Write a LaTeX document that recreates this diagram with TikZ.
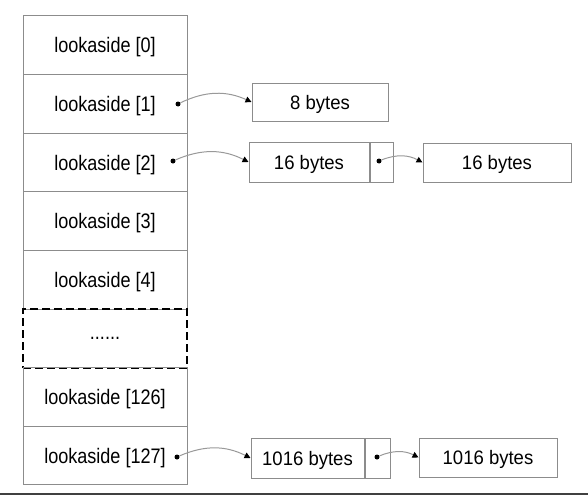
\documentclass[tikz,border=0pt]{standalone}
\usepackage{fontspec}
\setmainfont{Liberation Sans}
\newfontfamily\cellfont[FakeStretch=0.86]{Liberation Sans}
\newfontfamily\blkfont[FakeStretch=0.95]{Liberation Sans}
\usetikzlibrary{arrows.meta,positioning}

\definecolor{boxgray}{HTML}{8C8C8C}
\definecolor{linkgray}{HTML}{999999}
\definecolor{rulegray}{HTML}{404040}

\tikzset{
    cell/.style={draw=boxgray, line width=1pt, minimum width=164pt, minimum height=58.6pt,
        inner sep=0pt, text depth=0pt, font=\cellfont\fontsize{21}{25}\selectfont},
    gapcell/.style={cell, draw=black, line width=2pt, dash pattern=on 8pt off 4pt},
    blk/.style={draw=boxgray, line width=1pt, inner sep=0pt, text depth=0pt,
        font=\blkfont\fontsize{19.5}{23}\selectfont},
    dot/.style={circle, fill=black, inner sep=0pt, minimum size=5pt},
    link/.style={draw=linkgray, line width=1pt, -{Triangle[black,length=6pt,width=6pt]}, bend left=25}
}

\begin{document}
\begin{tikzpicture}[x=1pt, y=-1pt]
        \useasboundingbox (0,0) rectangle (588,495);

        % 数组单元
        \foreach \i in {0,...,4}
        {
            \node [cell] (la\i) at (105,{16+58.6*(\i+0.5)}) {lookaside [\i]};
        }
        \node [gapcell] (gap) at (105,338.3) {......};
        \node [cell] (la126) at (105,396.9) {lookaside [126]};
        \node [cell] (la127) at (105,455.5) {lookaside [127]};

        % 指针
        \node [dot] (p1) at (178,104) {};
        \node [dot] (p2) at (173,161) {};
        \node [dot] (p127) at (177,457) {};

        % 链表块
        \node [blk, minimum width=136pt, minimum height=38pt] (b8) at (320,102) {8 bytes};

        \node [blk, minimum width=120pt, minimum height=40pt] (b16a) at (309,162) {16 bytes};
        \node [blk, minimum width=23pt, minimum height=40pt, right=0pt of b16a] (n16a) {};
        \node [dot] (q16) at (379,161) {};
        \node [blk, minimum width=148pt, minimum height=39pt] (b16b) at (497,162.5) {16 bytes};

        \node [blk, minimum width=113pt, minimum height=40pt] (b1016a) at (307.5,458) {1016 bytes};
        \node [blk, minimum width=25pt, minimum height=40pt, right=0pt of b1016a] (n1016a) {};
        \node [dot] (q1016) at (377,457) {};
        \node [blk, minimum width=138pt, minimum height=39pt] (b1016b) at (488,457.5) {1016 bytes};

        % 连线
        \draw [link] (p1) to (b8.west);
        \draw [link] (p2) to (b16a.west);
        \draw [link] (q16) to (b16b.west);
        \draw [link] (p127) to (b1016a.west);
        \draw [link] (q1016) to (b1016b.west);

        % 底线
        \draw [rulegray, line width=2pt] (0,494) -- (588,494);
\end{tikzpicture}
\end{document}
